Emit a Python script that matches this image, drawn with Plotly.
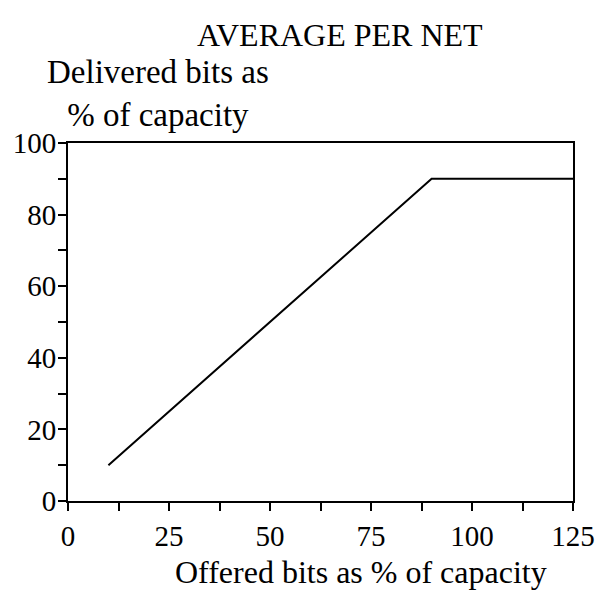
import plotly.graph_objects as go

offered = [10, 90, 125]
delivered = [10, 90, 90]

x_tickvals = [0, 25, 50, 75, 100, 125]
x_ticktext = ["0", "25", "50", "75", "100", "125"]
y_tickvals = [0, 20, 40, 60, 80, 100]
y_ticktext = ["0", "20", "40", "60", "80", "100"]

title_text = "AVERAGE PER NET"
y_title = "Delivered bits as<br>% of capacity"
x_title = "Offered bits as % of capacity"

FONT = "Liberation Serif"

fig = go.Figure()
fig.add_trace(go.Scatter(x=offered, y=delivered, mode="lines",
                         line=dict(color="black", width=2), showlegend=False))

fig.update_layout(
    width=599, height=590,
    margin=dict(l=68, r=26, t=143, b=89),
    plot_bgcolor="white", paper_bgcolor="white",
    font=dict(family=FONT, color="black", size=29),
    annotations=[
        dict(text=title_text, xref="paper", yref="paper", x=0.539, y=1.302,
             showarrow=False, font=dict(size=32, family=FONT), xanchor="center", yanchor="middle"),
        dict(text=y_title, xref="paper", yref="paper", x=0.178, y=1.137,
             showarrow=False, font=dict(size=33, family=FONT), xanchor="center", yanchor="middle",
             align="center"),
        dict(text=x_title, xref="paper", yref="paper", x=0.58, y=-0.198,
             showarrow=False, font=dict(size=32, family=FONT), xanchor="center", yanchor="middle"),
    ],
)

fig.update_xaxes(range=[0, 125], tickvals=x_tickvals, ticktext=x_ticktext,
                 automargin=False,
                 showgrid=False, zeroline=False, showline=True, linecolor="black",
                 linewidth=2, mirror=True, ticks="outside", ticklen=8, tickwidth=2,
                 tickcolor="black",
                 minor=dict(dtick=12.5, ticks="outside", ticklen=8, tickwidth=2, tickcolor="black", showgrid=False),
                 tickfont=dict(size=29, family=FONT))
fig.update_yaxes(range=[0, 100], tickvals=y_tickvals, ticktext=y_ticktext,
                 automargin=False,
                 showgrid=False, zeroline=False, showline=True, linecolor="black",
                 linewidth=2, mirror=True, ticks="outside", ticklen=4, tickwidth=2,
                 tickcolor="black",
                 minor=dict(dtick=10, ticks="outside", ticklen=8, tickwidth=2, tickcolor="black", showgrid=False),
                 tickfont=dict(size=29, family=FONT))

fig.write_html("out.html")
